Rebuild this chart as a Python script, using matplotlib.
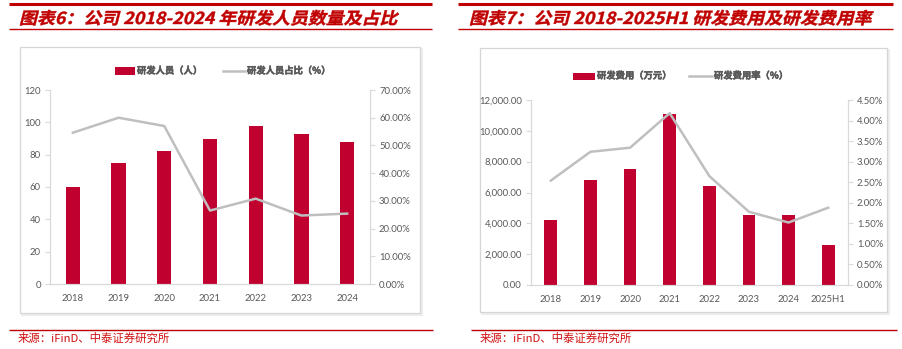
import matplotlib
matplotlib.use("Agg")
import matplotlib.pyplot as plt
import matplotlib.patheffects as pe
from matplotlib.patches import Rectangle, PathPatch
from matplotlib.lines import Line2D
from matplotlib.textpath import TextPath
from matplotlib.font_manager import FontProperties
from matplotlib.transforms import Affine2D, IdentityTransform
from matplotlib.ticker import FuncFormatter, MultipleLocator

# ---- data ----
years_staff = ["2018", "2019", "2020", "2021", "2022", "2023", "2024"]
staff_count = [60, 75, 82, 90, 98, 93, 88]
staff_ratio = [54.6, 60.0, 57.0, 26.5, 30.8, 24.7, 25.4]

years_rd = ["2018", "2019", "2020", "2021", "2022", "2023", "2024", "2025H1"]
rd_expense = [4230, 6780, 7530, 11070, 6420, 4540, 4560, 2600]
rd_rate = [2.54, 3.24, 3.34, 4.18, 2.65, 1.78, 1.52, 1.88]

title_left = "图表6：公司 2018-2024 年研发人员数量及占比"
title_right = "图表7：公司 2018-2025H1 研发费用及研发费用率"
legend_left = ["研发人员（人）", "研发人员占比（%）"]
legend_right = ["研发费用（万元）", "研发费用率（%）"]
source_text = "来源：iFinD、中泰证券研究所"

# ---- style ----
W, H = 902, 349
DPI = 100
RED = "#C00000"
BAR = "#C0002F"
LINE = "#BFBFBF"
AXC = "#D9D9D9"
TXT = "#595959"
CJK = ["Noto Sans CJK SC", "DejaVu Sans"]
NUM = ["Lato", "DejaVu Sans"]

fig = plt.figure(figsize=(W / DPI, H / DPI), dpi=DPI)
fig.patch.set_facecolor("white")


def fx(px):
    return px / W


def fy(py):
    return 1 - py / H


def hline(x0, x1, y, lw, color):
    fig.add_artist(Line2D([fx(x0), fx(x1)], [fy(y), fy(y)], lw=lw, color=color,
                          transform=fig.transFigure, solid_capstyle="butt"))


def slanted_title(text, x_px, y_px, size_px, color, stretch=1.085):
    fp = FontProperties(family="Noto Sans CJK SC", weight="heavy")
    tp = TextPath((0, 0), text, size=size_px, prop=fp)
    tr = Affine2D().scale(stretch, 1.0).skew_deg(14, 0).translate(x_px, H - y_px)
    path = tr.transform_path(tp)
    fig.add_artist(PathPatch(path, fc=color, ec=color, lw=0.3,
                             transform=IdentityTransform()))


def box(x0, y0, x1, y1):
    fig.add_artist(Rectangle((fx(x0 + 1.5), fy(y1 + 1.5)), fx(x1 - x0), fy(y0) - fy(y1),
                             transform=fig.transFigure, fc="none", ec="#EDEDED", lw=1.5,
                             zorder=-6))
    fig.add_artist(Rectangle((fx(x0), fy(y1)), fx(x1 - x0), fy(y0) - fy(y1),
                             transform=fig.transFigure, fc="white", ec="#D6D6D6", lw=0.9,
                             zorder=-5))


BOLD = [pe.withStroke(linewidth=0.35, foreground=TXT)]


def legend(bar_x, bar_label, line_x, line_label, y, bar_w, line_w):
    fig.add_artist(Rectangle((fx(bar_x), fy(y + 3.5)), fx(bar_w), fy(y - 3.5) - fy(y + 3.5),
                             transform=fig.transFigure, fc=BAR, ec="none"))
    fig.text(fx(bar_x + bar_w + 2), fy(y), bar_label, family=CJK, weight="bold",
             fontsize=6.7, color=TXT, va="center", ha="left", path_effects=BOLD)
    fig.add_artist(Line2D([fx(line_x), fx(line_x + line_w)], [fy(y), fy(y)],
                          transform=fig.transFigure, color=LINE, lw=1.8))
    fig.text(fx(line_x + line_w + 2), fy(y), line_label, family=CJK, weight="bold",
             fontsize=6.7, color=TXT, va="center", ha="left", path_effects=BOLD)


def style_axes(ax, ax2):
    for a in (ax, ax2):
        a.spines["top"].set_visible(False)
        for s in ("left", "right", "bottom"):
            a.spines[s].set_color(AXC)
            a.spines[s].set_linewidth(0.8)
        a.tick_params(axis="y", colors=AXC, labelcolor=TXT, length=3.5, width=0.8,
                      labelsize=6.8, pad=3)
        a.tick_params(axis="x", length=0, labelcolor=TXT, labelsize=6.8, pad=7)
        for lab in a.get_yticklabels() + a.get_xticklabels():
            lab.set_family(NUM)
    ax.set_facecolor("none")
    ax2.set_facecolor("none")


# ---- frames, titles, rules ----
box(20, 47, 420, 313)
box(480, 48, 887, 312)

hline(9, 432, 4.3, 2.2, RED)
hline(9, 432, 29.3, 1.0, RED)
hline(458, 893, 4.3, 2.2, RED)
hline(458, 893, 29.3, 1.0, RED)

slanted_title(title_left, 19, 24, 16.5, RED)
slanted_title(title_right, 469, 24, 16.5, RED)

hline(9, 433, 329.5, 1.0, RED)
hline(471, 897, 329.5, 1.0, RED)
fig.text(fx(18), fy(338), source_text, family=CJK, fontsize=8.2, color="#D01010",
         va="center", ha="left")
fig.text(fx(480), fy(338), source_text, family=CJK, fontsize=8.2, color="#D01010",
         va="center", ha="left")

# ---- left chart: R&D staff ----
axL = fig.add_axes([fx(50), fy(284), fx(370 - 50), fy(90) - fy(284)])
xl = range(len(years_staff))
axL.bar(xl, staff_count, width=0.31, color=BAR, zorder=2)
axL.set_xlim(-0.5, len(years_staff) - 0.5)
axL.set_ylim(0, 120)
axL.yaxis.set_major_locator(MultipleLocator(20))
axL.set_xticks(list(xl))
axL.set_xticklabels(years_staff)
axL2 = axL.twinx()
axL2.plot(list(xl), staff_ratio, color=LINE, lw=1.8, zorder=3)
axL2.set_ylim(0, 70)
axL2.yaxis.set_major_locator(MultipleLocator(10))
axL2.yaxis.set_major_formatter(FuncFormatter(lambda v, p: f"{v:.2f}%"))
style_axes(axL, axL2)
legend(115, legend_left[0], 223, legend_left[1], 71, 20, 22)

# ---- right chart: R&D expense ----
axR = fig.add_axes([fx(531), fy(285), fx(848 - 531), fy(100) - fy(285)])
xr = range(len(years_rd))
axR.bar(xr, rd_expense, width=0.32, color=BAR, zorder=2)
axR.set_xlim(-0.5, len(years_rd) - 0.5)
axR.set_ylim(0, 12000)
axR.yaxis.set_major_locator(MultipleLocator(2000))
axR.yaxis.set_major_formatter(FuncFormatter(lambda v, p: f"{v:,.2f}"))
axR.set_xticks(list(xr))
axR.set_xticklabels(years_rd)
axR2 = axR.twinx()
axR2.plot(list(xr), rd_rate, color=LINE, lw=1.8, zorder=3)
axR2.set_ylim(0, 4.5)
axR2.yaxis.set_major_locator(MultipleLocator(0.5))
axR2.yaxis.set_major_formatter(FuncFormatter(lambda v, p: f"{v:.2f}%"))
style_axes(axR, axR2)
legend(573, legend_right[0], 689, legend_right[1], 76, 22, 23)

fig.savefig("out.png", dpi=DPI)
